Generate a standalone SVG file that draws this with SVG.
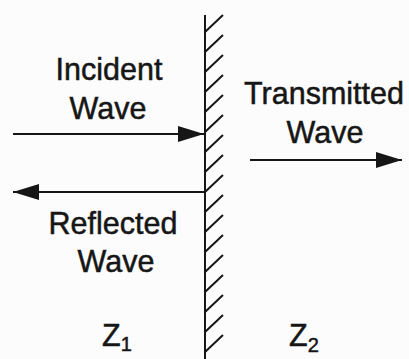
<svg xmlns="http://www.w3.org/2000/svg" width="409" height="359" viewBox="0 0 409 359">
<defs>
<style>
text{font-family:"Liberation Sans",Arial,sans-serif;font-size:30.5px;fill:#161616;stroke:#161616;stroke-width:0.5;text-anchor:middle}
text.z{text-anchor:start}
.ln{stroke:#161616;stroke-width:2;fill:none}
.hatch{stroke:#161616;stroke-width:2;fill:none}
</style>
<marker id="ah" markerWidth="26" markerHeight="16" refX="26" refY="8" orient="auto" markerUnits="userSpaceOnUse">
<path d="M0,0 L26,8 L0,16 Z" fill="#161616"/>
</marker>
</defs>
<rect width="409" height="359" fill="#fcfcfc"/>
<g id="boundary">
<line class="ln" x1="205" y1="15" x2="205" y2="359" stroke-width="2.5"/>
<path class="hatch" d="M205,32 l18,-17 M205,52 l18,-17 M205,72 l18,-17 M205,92 l18,-17 M205,112 l18,-17 M205,132 l18,-17 M205,152 l18,-17 M205,172 l18,-17 M205,192 l18,-17 M205,212 l18,-17 M205,232 l18,-17 M205,252 l18,-17 M205,272 l18,-17 M205,292 l18,-17 M205,312 l18,-17 M205,332 l18,-17 M205,352 l18,-17"/>
</g>
<g id="incident">
<text x="109" y="79.5">Incident</text>
<text x="108" y="118.5">Wave</text>
</g>
<g id="transmitted">
<text x="324" y="103.5">Transmitted</text>
<text x="325" y="143">Wave</text>
</g>
<g id="reflected">
<text x="113" y="233.5">Reflected</text>
<text x="116" y="272">Wave</text>
</g>
<g id="z1">
<text class="z" x="102" y="346">Z<tspan font-size="20" dy="5">1</tspan></text>
</g>
<g id="z2">
<text class="z" x="289" y="346">Z<tspan font-size="20" dy="6">2</tspan></text>
</g>
<g id="connectors">
<line class="ln" x1="13" y1="134" x2="204" y2="134" marker-end="url(#ah)"/>
<line class="ln" x1="204" y1="192" x2="13" y2="192" marker-end="url(#ah)"/>
<line class="ln" x1="250" y1="160" x2="402" y2="160" marker-end="url(#ah)"/>
</g>
</svg>
